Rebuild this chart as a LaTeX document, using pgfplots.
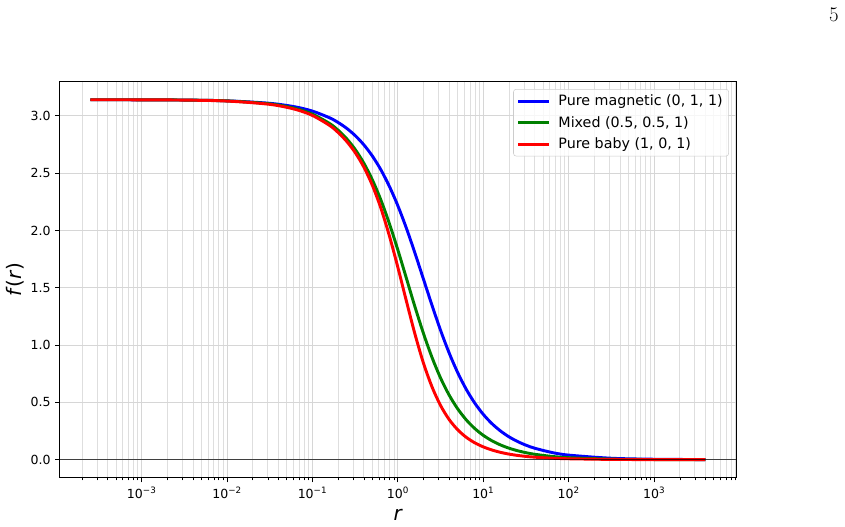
\documentclass[border=0pt]{standalone}
\usepackage{fontspec}
\setsansfont{DejaVu Sans}
\renewcommand{\familydefault}{\sfdefault}
\usepackage{pgfplots}
\usepackage{pgfplotstable}
\pgfplotsset{compat=1.18}

% Profile functions f(r) for the three coupling choices
\pgfplotstableread{
r        magnetic  mixed   baby
2.512e-4 3.1413    3.1414  3.1413
1e-3     3.1406    3.1407  3.1406
3.162e-3 3.1384    3.1386  3.1381
0.01     3.1316    3.1312  3.1297
0.03162  3.1100    3.1053  3.1010
0.0631   3.0785    3.0649  3.0570
0.1      3.0417    3.0152  3.0036
0.1585   2.9834    2.9336  2.9170
0.1995   2.9427    2.8752  2.8552
0.2512   2.8917    2.8008  2.7774
0.3162   2.8280    2.7068  2.6794
0.3981   2.7486    2.5887  2.5546
0.5012   2.6505    2.4427  2.3952
0.6310   2.5302    2.2666  2.1956
0.7943   2.3851    2.0599  1.9530
1        2.2143    1.8279  1.6760
1.259    2.0180    1.5808  1.3812
1.585    1.8010    1.3322  1.0940
1.995    1.5731    1.0994  0.8404
2.512    1.3451    0.8905  0.6334
3.162    1.1271    0.7115  0.4716
3.981    0.9309    0.5635  0.3502
5.012    0.7594    0.4434  0.2610
6.310    0.6139    0.3475  0.1954
7.943    0.4934    0.2717  0.1473
10       0.3948    0.2121  0.1116
12.59    0.3151    0.1654  0.0847
15.85    0.2511    0.1290  0.0643
19.95    0.1998    0.1005  0.0489
25.12    0.1589    0.0783  0.0373
31.62    0.1263    0.0610  0.0286
39.81    0.1004    0.0475  0.0220
63.10    0.0634    0.0288  0.0132
100      0.0400    0.0175  0.0081
316.2    0.0126    0.0050  0.0025
1000     0.0040    0.0014  0.0008
3981     0.0010    0.0003  0.0002
}\profiles

\begin{document}
\begin{tikzpicture}[x=0.75pt,y=0.75pt]
\path[use as bounding box] (-60,-49.3) rectangle (785,477.7);
\begin{axis}[
  at={(0,0)}, anchor=south west,
  scale only axis, width=507.5pt, height=297pt,
  xmode=log, log basis x=10,
  xmin=1.104e-4, xmax=9247,
  ymin=-0.1571, ymax=3.2987,
  xtick={1e-3,1e-2,1e-1,1,10,100,1000},
  xticklabels={10\textsuperscript{−3},10\textsuperscript{−2},10\textsuperscript{−1},10\textsuperscript{0},10\textsuperscript{1},10\textsuperscript{2},10\textsuperscript{3}},
  minor xtick={2e-4,3e-4,4e-4,5e-4,6e-4,7e-4,8e-4,9e-4,
               2e-3,3e-3,4e-3,5e-3,6e-3,7e-3,8e-3,9e-3,
               2e-2,3e-2,4e-2,5e-2,6e-2,7e-2,8e-2,9e-2,
               0.2,0.3,0.4,0.5,0.6,0.7,0.8,0.9,
               2,3,4,5,6,7,8,9,
               20,30,40,50,60,70,80,90,
               200,300,400,500,600,700,800,900,
               2000,3000,4000,5000,6000,7000,8000,9000},
  ytick={0,0.5,1,1.5,2,2.5,3},
  yticklabel style={/pgf/number format/.cd, fixed, fixed zerofill, precision=1},
  /pgf/number format/assume math mode=true,
  tick label style={font=\fontsize{9.4}{11}\selectfont, black},
  tick align=outside, tick pos=left,
  major tick length=3.5pt, minor tick length=2pt,
  major tick style={black, line width=0.75pt},
  minor tick style={black, line width=0.55pt},
  axis line style={black, line width=0.75pt},
  grid=both,
  major grid style={black!16, line width=0.75pt},
  minor grid style={black!13, line width=0.75pt},
  xlabel={\textit{r}},
  ylabel={\textit{f}(\textit{r})},
  label style={font=\fontsize{15}{18}\selectfont},
  xlabel style={at={(axis description cs:0.5,0)}, anchor=center, yshift=-28pt},
  ylabel style={at={(axis description cs:-0.0665,0.5)}, anchor=center},
  legend style={at={(1,1)}, anchor=north east, xshift=-5.8pt, yshift=-5.5pt,
    draw=black!20, rounded corners=2pt, fill=white, fill opacity=0.8, text opacity=1,
    font=\fontsize{10.7}{13}\selectfont, inner xsep=2.5pt, inner ysep=2pt,
    row sep=2.6pt, column sep=4pt},
  legend cell align=left,
  legend image code/.code={\draw[#1, line width=2.2pt] (0pt,0pt) -- (23pt,0pt);},
]
\addplot[blue, line width=2.2pt, smooth] table[x=r, y=magnetic] {\profiles};
\addlegendentry{Pure magnetic (0, 1, 1)}
\addplot[green!50!black, line width=2.2pt, smooth] table[x=r, y=mixed] {\profiles};
\addlegendentry{Mixed (0.5, 0.5, 1)}
\addplot[red, line width=2.2pt, smooth] table[x=r, y=baby] {\profiles};
\addlegendentry{Pure baby (1, 0, 1)}
% reference line at f = 0, drawn over the curves
\draw[black, opacity=0.7, line width=1pt] (axis cs:1.104e-4,0) -- (axis cs:9247,0);
\end{axis}
\node[font=\rmfamily\fontsize{15.6}{18}\selectfont] at (774,462.7) {5};
\end{tikzpicture}
\end{document}
